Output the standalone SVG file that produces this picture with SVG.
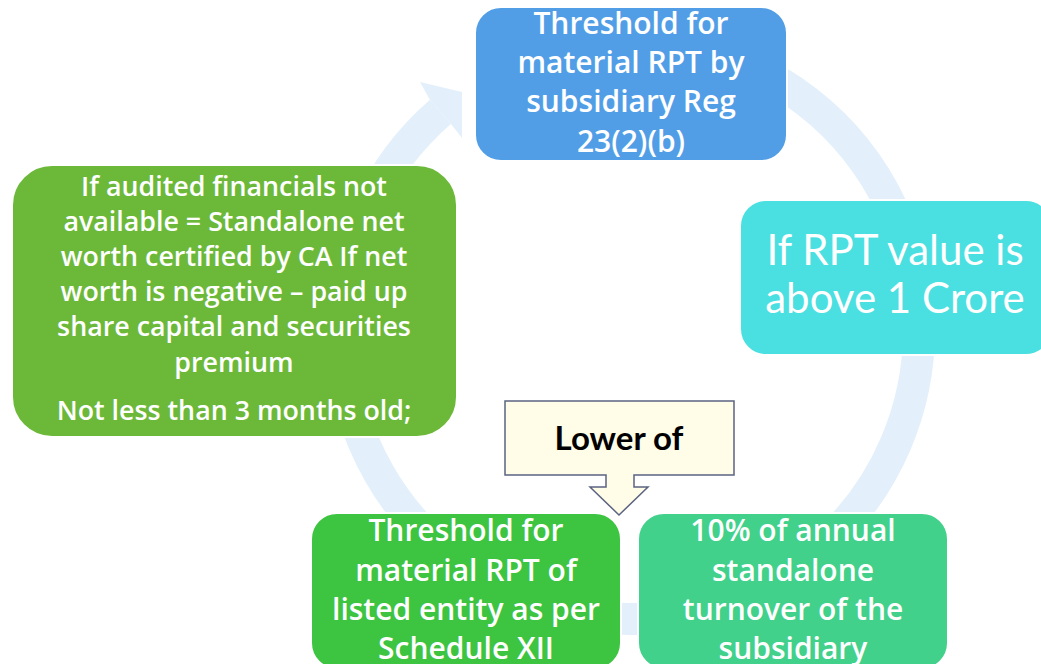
<svg xmlns="http://www.w3.org/2000/svg" width="1041" height="664" viewBox="0 0 1041 664">
<style>
.node{stroke:#ffffff;stroke-width:2}
.t{font-family:"Open Sans",Lato,"Liberation Sans",sans-serif;font-weight:600;fill:#ffffff;text-anchor:middle}
.big{font-family:Lato,"Open Sans","Liberation Sans",sans-serif;fill:#ffffff;text-anchor:middle}
.ring{fill:none;stroke:#E3F0FB;stroke-width:32}
</style>
<rect width="1041" height="664" fill="#ffffff"/>
<g id="connectors">
<path class="ring" d="M 680.2 45.4 A 289 289 0 1 1 440.4 111.9"/>
<polygon points="430,100 420,82 462,92 462,138 451,124" fill="#E3F0FB"/>
</g>
<g id="node-top">
<rect class="node" x="475" y="7" width="312" height="154" rx="26" fill="#519EE7"/>
<text class="t" font-size="30"><tspan x="631" y="34">Threshold for</tspan><tspan x="631" y="73">material RPT by</tspan><tspan x="631" y="112">subsidiary Reg</tspan><tspan x="631" y="152">23(2)(b)</tspan></text>
</g>
<g id="node-right">
<rect class="node" x="740" y="200" width="312" height="155" rx="26" fill="#4ADFE0"/>
<text class="big" font-size="42"><tspan x="895" y="265">If RPT value is</tspan><tspan x="895" y="313">above 1 Crore</tspan></text>
</g>
<g id="node-bottom-right">
<rect class="node" x="638" y="513" width="310" height="156" rx="26" fill="#41D18B"/>
<text class="t" font-size="30"><tspan x="793" y="541">10% of annual</tspan><tspan x="793" y="581">standalone</tspan><tspan x="793" y="620">turnover of the</tspan><tspan x="793" y="659">subsidiary</tspan></text>
</g>
<g id="node-bottom-left">
<rect class="node" x="311" y="513" width="310" height="156" rx="26" fill="#3DC441"/>
<text class="t" font-size="30"><tspan x="466" y="541">Threshold for</tspan><tspan x="466" y="581">material RPT of</tspan><tspan x="466" y="620">listed entity as per</tspan><tspan x="466" y="659">Schedule XII</tspan></text>
</g>
<g id="node-left">
<rect class="node" x="12" y="165" width="445" height="272" rx="40" fill="#6CB93A"/>
<text class="t" font-size="26.8"><tspan x="234" y="196">If audited financials not</tspan><tspan x="234" y="231">available = Standalone net</tspan><tspan x="234" y="266">worth certified by CA If net</tspan><tspan x="234" y="301">worth is negative – paid up</tspan><tspan x="234" y="336">share capital and securities</tspan><tspan x="234" y="372">premium</tspan><tspan x="234" y="420">Not less than 3 months old;</tspan></text>
</g>
<g id="node-lower-of">
<path d="M 505 401 L 734 401 L 734 475 L 634 475 L 634 487 L 648 487 L 619 515 L 590 487 L 606 487 L 606 475 L 505 475 Z" fill="#FFFDE7" stroke="#5B6382" stroke-width="1.5"/>
<text font-family="Lato,'Open Sans','Liberation Sans',sans-serif" font-weight="bold" font-size="33" fill="#000000" text-anchor="middle" x="619" y="450">Lower of</text>
</g>
</svg>
